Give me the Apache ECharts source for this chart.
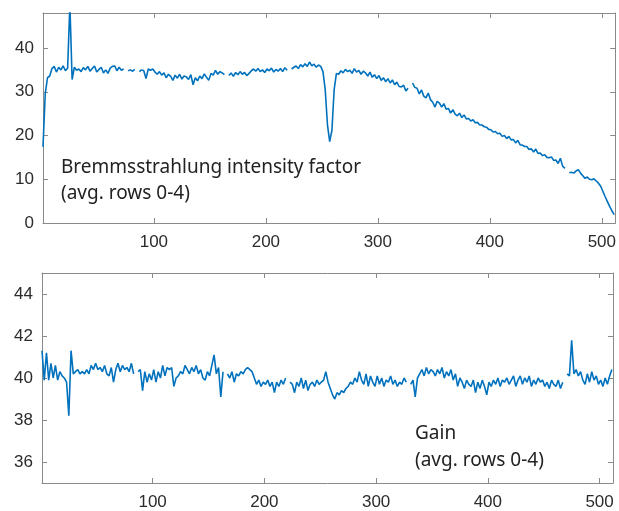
<!DOCTYPE html>
<html>
<head>
<meta charset="utf-8">
<script src="https://cdn.jsdelivr.net/npm/echarts@6/dist/echarts.min.js"></script>
<style>
  html, body { margin: 0; padding: 0; background: #fff; }
  #chart { width: 619px; height: 511px; }
</style>
</head>
<body>
<div id="chart"></div>
<script>
// column index -> x = 1 + 2*i (every second column, 1..511)
const xStart = 1
const xStep = 2

// Bremsstrahlung intensity factor, avg. rows 0-4
const intensity = [
  17.4, 29.5, 33.2, 33.6, 35.3, 35.8, 34.5, 35.6, 35.0, 35.9, 34.8, 35.4, 50.0, 32.8, 35.6, 34.9,
  35.2, 34.6, 35.5, 35.0, 35.8, 34.7, 35.3, 35.9, 34.5, 35.1, 35.6, 34.3, 35.0, 34.2, 35.4, 35.8,
  35.9, 34.8, 35.6, 34.9, 35.2, null, 34.8, 35.0, 34.7, 35.1, null, 34.6, 35.0, 34.8, 33.0, 35.2,
  34.9, 35.2, 34.5, 34.0, 34.6, 33.8, 34.3, 33.2, 34.0, 33.5, 32.6, 33.8, 33.1, 34.0, 32.9, 33.6,
  33.4, 32.8, 33.9, 31.6, 33.2, 32.5, 33.6, 33.0, 34.1, 33.3, 32.6, 34.2, 33.8, 34.9, 34.0, 34.6,
  34.3, 33.9, null, 33.7, 34.3, 33.5, 34.4, 33.9, 34.6, 34.0, 34.4, 33.7, 34.2, 34.8, 35.2, 34.7,
  35.3, 34.6, 35.0, 34.4, 35.2, 34.8, 35.4, 34.5, 35.1, 34.7, 35.3, 34.6, 35.5, 34.9, null, 35.2,
  35.6, 35.9, 35.3, 36.2, 35.7, 36.4, 35.8, 36.8, 35.9, 36.3, 35.6, 36.1, 35.8, 34.6, 30.5, 22.5,
  18.6, 21.2, 30.5, 34.2, 34.0, 34.8, 34.3, 35.1, 34.6, 34.9, 34.2, 35.3, 34.5, 34.9, 34.0, 34.7,
  34.3, 33.6, 34.5, 33.3, 33.9, 33.0, 33.7, 32.6, 33.2, 32.3, 33.0, 32.0, 32.7, 31.6, 32.2, 31.2,
  31.1, 31.5, 30.2, 30.8, null, 32.0, 31.0, 30.8, 29.5, 30.4, 29.0, 28.6, 29.7, 28.2, 27.6, 26.5,
  27.8, 27.4, 26.5, 27.3, 26.0, 26.2, 25.1, 25.9, 24.9, 24.5, 25.1, 24.1, 24.7, 23.8, 23.9, 23.3,
  23.6, 22.9, 23.0, 22.4, 22.4, 22.0, 21.9, 21.4, 21.3, 20.8, 20.9, 20.4, 20.5, 19.8, 20.0, 19.3,
  19.8, 19.0, 19.1, 18.3, 18.9, 17.9, 17.8, 17.5, 17.5, 16.8, 17.0, 16.2, 16.9, 15.9, 16.0, 15.4,
  15.6, 15.0, 14.9, 15.1, 14.3, 14.4, 13.6, 14.8, 13.0, 12.5, null, 11.5, 11.6, 11.4, 11.9, 12.2,
  11.4, 10.8, 10.2, 10.5, 10.0, 9.9, 10.1, 9.6, 9.1, 8.4, 7.2, 6.0, 4.9, 3.8, 2.8, 1.9
]

// Gain, avg. rows 0-4
const gain = [
  41.3, 39.9, 41.2, 39.9, 40.7, 40.0, 40.6, 39.9, 40.3, 40.1, 40.0, 39.8, 38.2, 41.3, 40.2, 40.3,
  40.4, 40.2, 40.3, 40.2, 40.4, 40.2, 40.6, 40.4, 40.7, 40.4, 40.5, 40.3, 40.6, 40.2, 40.1, 40.5,
  39.8, 40.4, 40.7, 40.3, 40.6, 40.4, 40.5, 40.3, 40.7, 40.2, null, 40.3, 40.4, 39.4, 40.3, 39.8,
  40.2, 39.9, 40.4, 39.8, 40.3, 40.0, 40.6, 40.1, 40.5, 40.4, 40.5, 39.6, 40.0, 40.1, 40.3, 40.2,
  40.6, 40.4, 40.2, 40.5, 40.3, 40.6, 40.2, 40.4, 40.0, 39.9, 40.3, 40.1, 40.6, 41.1, 40.2, 40.5,
  39.1, 40.3, null, 40.2, 40.0, 40.3, 39.8, 40.2, 40.1, 40.3, 40.2, 40.4, 40.5, 40.4, 40.3, 40.0,
  39.7, 39.9, 39.6, 39.8, 39.7, 39.9, 39.6, 39.8, 39.3, 39.8, 39.6, 39.9, 39.7, 40.0, null, 39.8,
  39.7, 39.3, 39.8, 39.6, 40.0, 39.5, 39.9, 39.4, 39.7, 39.8, 39.6, 39.9, 39.7, 39.8, 39.9, 40.3,
  39.8, 39.5, 39.2, 39.0, 39.3, 39.2, 39.4, 39.3, 39.5, 39.6, 39.8, 39.7, 40.0, 39.8, 40.3, 39.9,
  39.7, 40.2, 39.6, 40.1, 39.8, 39.6, 40.1, 39.7, 40.0, 39.6, 39.9, 39.8, 40.1, 39.7, 39.9, 39.6,
  39.8, 39.7, 40.0, 39.8, null, 39.7, 39.9, 39.1, 40.0, 40.2, 40.4, 40.1, 40.5, 40.2, 40.4, 40.3,
  40.1, 40.4, 40.2, 40.5, 40.0, 40.3, 40.1, 40.4, 39.9, 40.2, 39.6, 40.0, 39.8, 39.5, 39.9, 39.7,
  39.6, 39.9, 39.3, 39.8, 39.5, 39.9, 39.6, 39.2, 39.8, 39.6, 39.9, 39.7, 40.0, 39.6, 39.9, 39.8,
  40.0, 39.7, 39.9, 40.1, 39.6, 39.9, 40.1, 39.7, 40.0, 39.8, 40.1, 39.6, 39.9, 39.7, 40.0, 39.8,
  39.9, 39.6, 39.8, 39.5, 39.9, 39.7, 39.6, 39.9, 39.5, 39.8, null, 40.2, 40.1, 41.8, 40.2, 40.4,
  40.1, 40.3, 39.9, 39.7, 40.2, 39.8, 40.3, 39.9, 40.1, 39.7, 39.9, 39.6, 40.0, 39.7, 40.1, 40.4
]

const xTicks = [100, 200, 300, 400, 500]
const topYTicks = [0, 10, 20, 30, 40]
const bottomYTicks = [36, 38, 40, 42, 44]

const toPairs = (arr) => arr.map((v, i) => [xStart + xStep * i, v === null ? '-' : v])

const axisColor = '#8a8a8a'
const labelStyle = { color: '#2b2b2b', fontSize: 17, fontFamily: 'Liberation Sans, Arial, sans-serif' }

const xAx = (grid, pos) => ({
  type: 'value', gridIndex: grid, position: pos, min: 1, max: 512,
  axisLine: { show: true, onZero: false, lineStyle: { color: axisColor, width: 1 } },
  axisTick: { show: true, inside: true, length: 5, customValues: xTicks, lineStyle: { color: axisColor } },
  axisLabel: pos === 'bottom'
    ? Object.assign({ show: true, margin: 11, customValues: xTicks }, labelStyle)
    : { show: false },
  splitLine: { show: false },
})

const yAx = (grid, pos, min, max, ticks) => ({
  type: 'value', gridIndex: grid, position: pos, min: min, max: max,
  axisLine: { show: true, onZero: false, lineStyle: { color: axisColor, width: 1 } },
  axisTick: { show: true, inside: true, length: 5, customValues: ticks, lineStyle: { color: axisColor } },
  axisLabel: pos === 'left'
    ? Object.assign({ show: true, margin: 9, customValues: ticks }, labelStyle)
    : { show: false },
  splitLine: { show: false },
})

const textStyle = { fill: '#222', fontSize: 19, fontFamily: 'Noto Sans, Open Sans, sans-serif' }

const chart = echarts.init(document.getElementById('chart'))
chart.setOption({
  animation: false,
  backgroundColor: '#fff',
  grid: [
    { left: 43, top: 13, width: 574, height: 210 },
    { left: 42, top: 273, width: 571, height: 210 },
  ],
  xAxis: [xAx(0, 'bottom'), xAx(0, 'top'), xAx(1, 'bottom'), xAx(1, 'top')],
  yAxis: [
    yAx(0, 'left', 0, 48, topYTicks), yAx(0, 'right', 0, 48, topYTicks),
    yAx(1, 'left', 35, 45, bottomYTicks), yAx(1, 'right', 35, 45, bottomYTicks),
  ],
  series: [
    {
      name: 'intensity', type: 'line', xAxisIndex: 0, yAxisIndex: 0,
      data: toPairs(intensity), showSymbol: false, clip: true,
      lineStyle: { color: '#0072BD', width: 1.6 },
    },
    {
      name: 'gain', type: 'line', xAxisIndex: 2, yAxisIndex: 2,
      data: toPairs(gain), showSymbol: false, clip: true,
      lineStyle: { color: '#0072BD', width: 1.6 },
    },
  ],
  graphic: [
    { type: 'text', left: 61, top: 158, style: Object.assign({ text: 'Bremmsstrahlung intensity factor' }, textStyle) },
    { type: 'text', left: 61, top: 184, style: Object.assign({ text: '(avg. rows 0-4)' }, textStyle) },
    { type: 'text', left: 415, top: 424, style: Object.assign({ text: 'Gain' }, textStyle) },
    { type: 'text', left: 415, top: 451, style: Object.assign({ text: '(avg. rows 0-4)' }, textStyle) },
  ],
})
</script>
</body>
</html>
